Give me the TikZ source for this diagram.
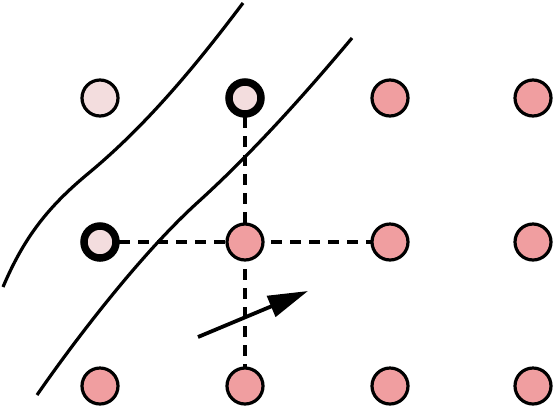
\documentclass[tikz,border=0pt]{standalone}
\usepackage{xcolor}
\usetikzlibrary{arrows.meta,backgrounds}

\definecolor{sitelight}{RGB}{243,221,222}
\definecolor{sitedark}{RGB}{240,158,160}

\begin{document}
\begin{tikzpicture}[
  x=1pt, y=-1pt,
  site/.style={
    circle,
    draw,
    line width=3.2pt,
    inner sep=0pt,
    minimum size=36pt,
    fill=sitedark
  },
  empty/.style={fill=sitelight},
  marked/.style={line width=7.5pt, minimum size=32pt},
  link/.style={line width=3.2pt, dash pattern=on 11pt off 8pt},
  wall/.style={line width=3.2pt},
  arrow/.style={-{Triangle[length=40pt,width=22pt]},line width=3.8pt}
]
  \useasboundingbox (0,0) rectangle (556,408);

  % lattice sites
  \foreach \i/\x in {3/390,4/533}
    \foreach \j/\y in {1/98,2/242,3/386}
      \node[site] (p\i\j) at (\x,\y) {};
  \node[site,empty] (p11) at (100,98) {};
  \node[site,empty,marked] (p21) at (245,98) {};
  \node[site,empty,marked] (p12) at (100,242) {};
  \node[site] (p22) at (245,242) {};
  \node[site] (p13) at (100,386) {};
  \node[site] (p23) at (245,386) {};

  % walls
  \draw[wall] (3,287) .. controls (25,235) and (50,205) .. (90,172)
              .. controls (150,122) and (200,60) .. (243,3);
  \draw[wall] (37,395) .. controls (75,340) and (140,255) .. (197,203)
              .. controls (250,155) and (300,100) .. (352,38);

  % bonds
  \begin{scope}[on background layer]
    \draw[link] (p21.center) -- (p23.center);
    \draw[link] (p12.center) -- (p32.center);
  \end{scope}

  % drift
  \coordinate (d0) at (198,337);
  \coordinate (d1) at (308,291);
  \draw[arrow] (d0) -- (d1);
\end{tikzpicture}
\end{document}
